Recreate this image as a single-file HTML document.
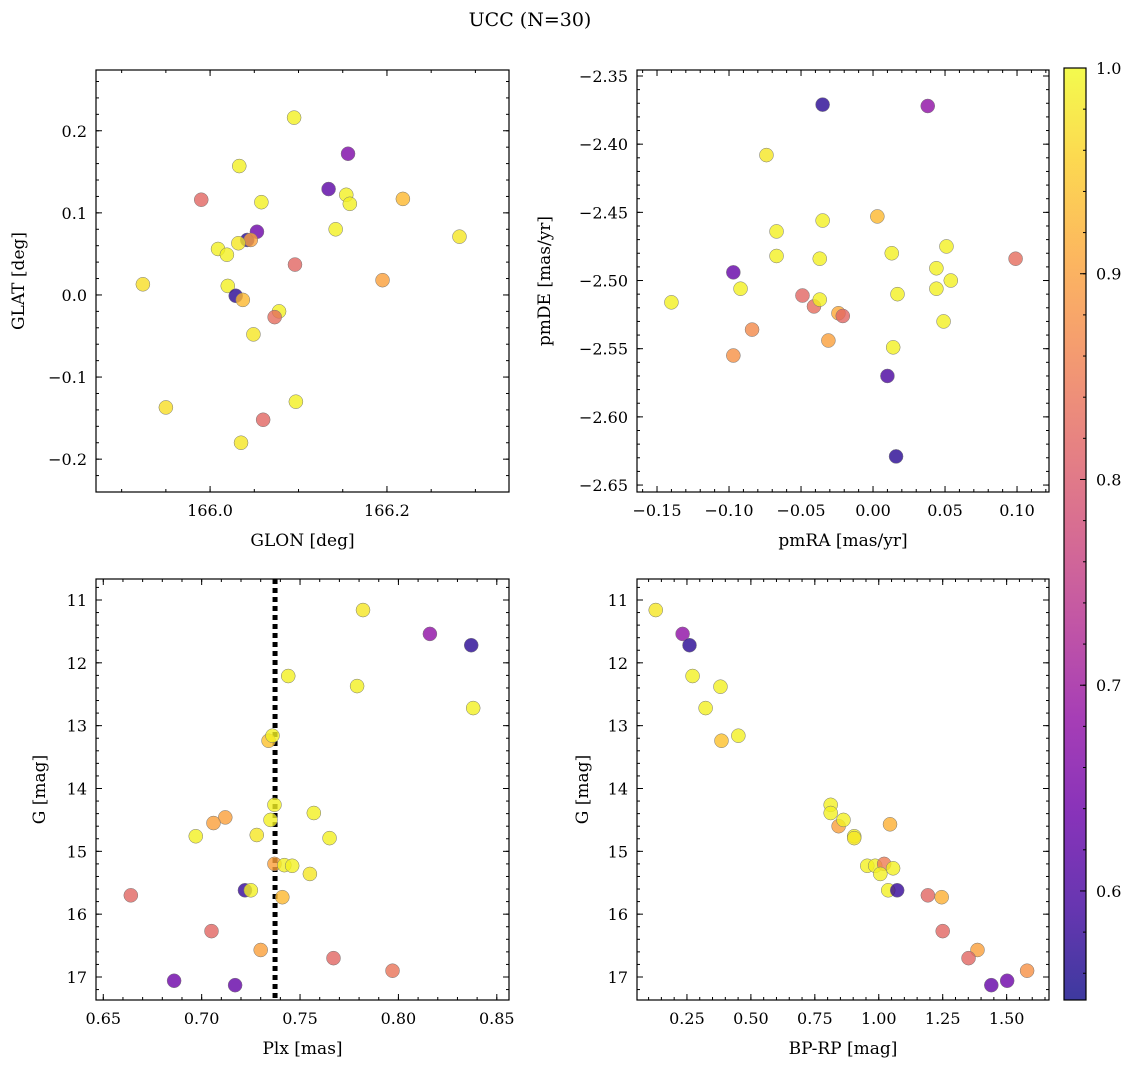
<!DOCTYPE html>
<html><head><meta charset="utf-8"><style>
html,body{margin:0;padding:0;background:#fff;}
svg{display:block;font-family:"DejaVu Serif","Liberation Serif",serif;}
</style></head><body>
<svg id="fig" width="1136" height="1068" viewBox="0 0 1136 1068" xmlns="http://www.w3.org/2000/svg">
<text x="530" y="26" font-size="19" text-anchor="middle">UCC (N=30)</text>
</svg>
<script>
// ---- data ----
const glon = [166.095,166.156,166.033,165.990,166.134,166.154,166.158,166.218,166.058,166.142,166.282,166.053,166.042,166.046,166.009,166.019,166.032,166.096,166.195,165.924,166.020,166.029,166.037,166.078,166.073,166.049,165.950,166.097,166.060,166.035];
const glat = [0.216,0.172,0.157,0.116,0.129,0.122,0.111,0.117,0.113,0.080,0.071,0.077,0.067,0.067,0.056,0.049,0.063,0.037,0.018,0.013,0.011,-0.001,-0.006,-0.020,-0.027,-0.048,-0.137,-0.130,-0.152,-0.180];
const probTL = [0.99,0.66,0.99,0.82,0.62,0.99,0.99,0.93,0.99,0.99,0.98,0.64,0.57,0.90,0.99,0.99,0.98,0.82,0.90,0.97,0.99,0.57,0.93,0.99,0.83,0.98,0.97,0.99,0.82,0.98];

const pmra = [-0.035,0.038,-0.074,0.003,-0.067,-0.035,0.051,-0.067,-0.037,0.013,-0.097,0.099,0.044,0.054,-0.092,-0.049,-0.041,-0.037,0.017,0.044,-0.140,-0.084,-0.024,-0.021,0.049,-0.031,0.014,-0.097,0.010,0.016];
const pmde = [-2.371,-2.372,-2.408,-2.453,-2.464,-2.456,-2.475,-2.482,-2.484,-2.480,-2.494,-2.484,-2.491,-2.500,-2.506,-2.511,-2.519,-2.514,-2.510,-2.506,-2.516,-2.536,-2.524,-2.526,-2.530,-2.544,-2.549,-2.555,-2.570,-2.629];
const probTR = [0.57,0.68,0.98,0.93,0.99,0.99,0.99,0.99,0.99,0.99,0.63,0.83,0.99,0.99,0.99,0.82,0.83,0.99,0.99,0.99,0.99,0.87,0.91,0.82,0.99,0.90,0.99,0.88,0.60,0.57];

const plx = [0.782,0.816,0.837,0.744,0.779,0.838,0.734,0.736,0.737,0.757,0.735,0.712,0.706,0.728,0.697,0.765,0.737,0.742,0.746,0.755,0.722,0.725,0.741,0.664,0.705,0.730,0.767,0.797,0.686,0.717];
const gmagBL = [11.16,11.54,11.72,12.21,12.37,12.72,13.24,13.16,14.26,14.39,14.50,14.46,14.55,14.74,14.76,14.79,15.20,15.22,15.23,15.36,15.62,15.62,15.73,15.70,16.27,16.57,16.70,16.90,17.06,17.13];
const probBL = [0.98,0.68,0.57,0.99,0.99,0.99,0.94,0.99,0.99,0.99,0.99,0.90,0.90,0.98,0.99,0.99,0.90,0.99,0.99,0.98,0.58,0.99,0.93,0.82,0.82,0.90,0.82,0.84,0.64,0.63];
const plxRef = [0.7373];

const bprp = [0.128,0.233,0.260,0.272,0.381,0.323,0.451,0.385,0.812,0.812,0.843,0.862,1.044,0.904,0.904,0.955,0.986,1.021,1.006,1.037,1.072,1.192,1.246,1.250,1.386,1.351,1.580,1.502,1.440,1.056];
const gmagBR = [11.16,11.54,11.72,12.21,12.38,12.72,13.16,13.24,14.26,14.39,14.60,14.50,14.57,14.76,14.79,15.23,15.23,15.20,15.36,15.62,15.62,15.70,15.73,16.27,16.57,16.70,16.90,17.06,17.13,15.27];
const probBR = [0.98,0.68,0.57,0.99,0.99,0.99,0.99,0.94,0.99,0.99,0.90,0.99,0.92,0.99,0.98,0.99,0.99,0.85,0.99,0.99,0.58,0.82,0.92,0.82,0.90,0.82,0.88,0.64,0.63,0.99];

const ticksGlon = [166.0,166.2], labGlon = ["166.0","166.2"];
const ticksGlat = [-0.2,-0.1,0.0,0.1,0.2], labGlat = ["\u22120.2","\u22120.1","0.0","0.1","0.2"];
const ticksPmra = [-0.15,-0.10,-0.05,0.00,0.05,0.10], labPmra = ["\u22120.15","\u22120.10","\u22120.05","0.00","0.05","0.10"];
const ticksPmde = [-2.35,-2.40,-2.45,-2.50,-2.55,-2.60,-2.65], labPmde = ["\u22122.35","\u22122.40","\u22122.45","\u22122.50","\u22122.55","\u22122.60","\u22122.65"];
const ticksPlx = [0.65,0.70,0.75,0.80,0.85], labPlx = ["0.65","0.70","0.75","0.80","0.85"];
const ticksG = [11,12,13,14,15,16,17], labG = ["11","12","13","14","15","16","17"];
const ticksBprp = [0.25,0.50,0.75,1.00,1.25,1.50], labBprp = ["0.25","0.50","0.75","1.00","1.25","1.50"];
const ticksCb = [0.6,0.7,0.8,0.9,1.0], labCb = ["0.6","0.7","0.8","0.9","1.0"];
const cbRange = [0.547,1.0];

// ---- helpers ----
const svg = document.getElementById('fig');
const NS = 'http://www.w3.org/2000/svg';
function mk(tag, attrs, parent){const e=document.createElementNS(NS,tag);for(const k in attrs)e.setAttribute(k,attrs[k]);(parent||svg).appendChild(e);return e;}
const stops=['#0d0887','#41049d','#6a00a8','#8f0da4','#b12a90','#cc4778','#e16462','#f2844b','#fca636','#fcce25','#f0f921'];
function hex(h){return [parseInt(h.slice(1,3),16),parseInt(h.slice(3,5),16),parseInt(h.slice(5,7),16)];}
function plasma(t){t=Math.max(0,Math.min(1,t));const f=t*10;const i=Math.min(9,Math.floor(f));const u=f-i;const a=hex(stops[i]),b=hex(stops[i+1]);return 'rgb('+a.map((v,k)=>Math.round(v+(b[k]-v)*u)).join(',')+')';}
function cmap(v){return plasma((v-cbRange[0])/(cbRange[1]-cbRange[0]));}

function panel(p){
  const g=mk('g',{});
  
  
  const sx=v=>p.x0+(v-p.xd[0])/(p.xd[1]-p.xd[0])*p.w;
  const sy=p.yinv?(v=>p.y0+(v-p.yd[0])/(p.yd[1]-p.yd[0])*p.h):(v=>p.y0+p.h-(v-p.yd[0])/(p.yd[1]-p.yd[0])*p.h);
  const minG=mk('g',{stroke:'#000','stroke-width':1},g);
  for(let v=Math.ceil(p.xd[0]/p.xm)*p.xm;v<=p.xd[1];v+=p.xm){const x=sx(v);mk('line',{x1:x,x2:x,y1:p.y0+p.h,y2:p.y0+p.h-3},minG);mk('line',{x1:x,x2:x,y1:p.y0,y2:p.y0+3},minG);}
  const ylo=Math.min(p.yd[0],p.yd[1]),yhi=Math.max(p.yd[0],p.yd[1]);
  for(let v=Math.ceil(ylo/p.ym)*p.ym;v<=yhi;v+=p.ym){const y=sy(v);mk('line',{x1:p.x0,x2:p.x0+3,y1:y,y2:y},minG);mk('line',{x1:p.x0+p.w,x2:p.x0+p.w-3,y1:y,y2:y},minG);}
  p.xt.forEach((v,i)=>{const x=sx(v);mk('line',{x1:x,x2:x,y1:p.y0+p.h,y2:p.y0+p.h-6,stroke:'#000'},g);mk('line',{x1:x,x2:x,y1:p.y0,y2:p.y0+6,stroke:'#000'},g);
    const t=mk('text',{x:x,y:p.y0+p.h+24,'font-size':16,'text-anchor':'middle'},g);t.textContent=p.xl[i];
    
    });
  p.yt.forEach((v,i)=>{const y=sy(v);mk('line',{x1:p.x0,x2:p.x0+6,y1:y,y2:y,stroke:'#000'},g);mk('line',{x1:p.x0+p.w,x2:p.x0+p.w-6,y1:y,y2:y,stroke:'#000'},g);
    const t=mk('text',{x:p.x0-9,y:y+6,'font-size':16,'text-anchor':'end'},g);t.textContent=p.yl[i];
    
    });
  if(p.vline){p.vline.forEach(v=>{const l=mk('line',{x1:sx(v),x2:sx(v),y1:p.y0,y2:p.y0+p.h,stroke:'#000','stroke-width':5,'stroke-dasharray':'5,4'},g);
    
    });}
  p.xs.forEach((v,i)=>{const c=mk('circle',{cx:sx(v),cy:sy(p.ys[i]),r:7,fill:cmap(p.cs[i]),'fill-opacity':0.8,stroke:'#777','stroke-width':0.5},g);
    
    });
  mk('rect',{x:p.x0,y:p.y0,width:p.w,height:p.h,fill:'none',stroke:'#000','stroke-width':1.2},g);
  const xl=mk('text',{x:p.x0+p.w/2,y:p.y0+p.h+54,'font-size':17,'text-anchor':'middle'},g);xl.textContent=p.xlab;
  
  
  const yl=mk('text',{x:0,y:0,'font-size':17,'text-anchor':'middle',transform:'translate('+p.ylx+','+(p.y0+p.h/2)+') rotate(-90)'},g);yl.textContent=p.ylab;
  
  
}

panel({name:'glon-glat-panel',x0:96,y0:70,w:413,h:422,xd:[165.871,166.338],yd:[-0.240,0.274],xt:ticksGlon,xl:labGlon,yt:ticksGlat,yl:labGlat,xm:0.05,ym:0.02,xs:glon,ys:glat,cs:probTL,xlab:'GLON [deg]',ylab:'GLAT [deg]',ylx:24});
panel({name:'proper-motion-panel',x0:637,y0:70,w:412,h:422,xd:[-0.1639,0.1222],yd:[-2.6551,-2.3456],xt:ticksPmra,xl:labPmra,yt:ticksPmde,yl:labPmde,xm:0.01,ym:0.01,xs:pmra,ys:pmde,cs:probTR,xlab:'pmRA [mas/yr]',ylab:'pmDE [mas/yr]',ylx:550});
panel({name:'plx-g-panel',x0:96,y0:579,w:413,h:421,xd:[0.6463,0.8562],yd:[10.666,17.366],yinv:true,xt:ticksPlx,xl:labPlx,yt:ticksG,yl:labG,xm:0.01,ym:0.2,xs:plx,ys:gmagBL,cs:probBL,vline:plxRef,xlab:'Plx [mas]',ylab:'G [mag]',ylx:45});
panel({name:'cmd-panel',x0:637,y0:579,w:412,h:421,xd:[0.0547,1.6656],yd:[10.666,17.366],yinv:true,xt:ticksBprp,xl:labBprp,yt:ticksG,yl:labG,xm:0.05,ym:0.2,xs:bprp,ys:gmagBR,cs:probBR,xlab:'BP-RP [mag]',ylab:'G [mag]',ylx:588});

(function(){
  const x0=1064,y0=68,w=22,h=932;
  const g=mk('g',{});
  
  
  const defs=mk('defs',{},g);
  const lg=mk('linearGradient',{id:'cbg',x1:0,y1:1,x2:0,y2:0},defs);
  for(let i=0;i<=20;i++){const t=i/20;mk('stop',{offset:t,'stop-color':plasma(t),'stop-opacity':0.8},lg);}
  mk('rect',{x:x0,y:y0,width:w,height:h,fill:'url(#cbg)'},g);
  const sy=v=>y0+h-(v-cbRange[0])/(cbRange[1]-cbRange[0])*h;
  for(let v=0.56;v<=1.0001;v+=0.02){const y=sy(v);mk('line',{x1:x0+w,x2:x0+w-3,y1:y,y2:y,stroke:'#000'},g);}
  ticksCb.forEach((v,i)=>{const y=sy(v);mk('line',{x1:x0+w,x2:x0+w-6,y1:y,y2:y,stroke:'#000'},g);
    const t=mk('text',{x:x0+w+10,y:y+6,'font-size':16},g);t.textContent=labCb[i];
    
    });
  mk('rect',{x:x0,y:y0,width:w,height:h,fill:'none',stroke:'#000','stroke-width':1.2},g);
})();
</script>
</body></html>
